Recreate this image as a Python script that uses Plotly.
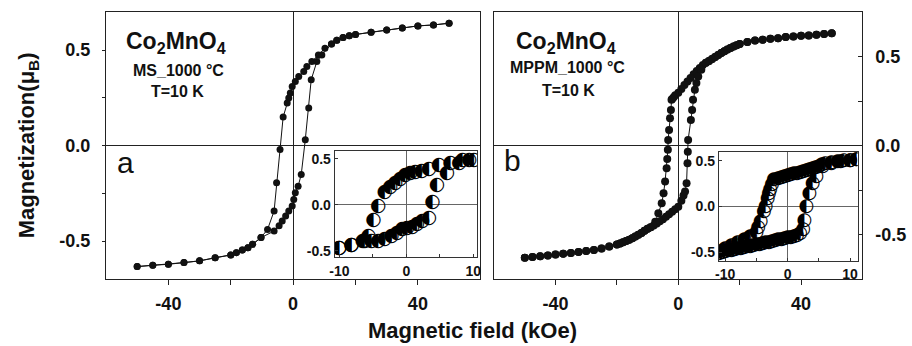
import plotly.graph_objects as go

# ---------------- data: panel a (MS_1000 °C) ----------------
H_a_dn = [50, 45, 40, 35, 30, 25, 20, 18, 16, 14, 12.3, 10.2, 8.1, 6.0, 4.4, 3.4, 1.8, 0.7, -0.3,
          -0.9, -1.4, -1.9, -3.2, -4.2, -5.3, -6.1, -8.2, -10.3, -13, -14.5, -16.3, -18.2, -20,
          -25, -30, -35, -40, -45, -50]
M_a_dn = [0.641, 0.632, 0.627, 0.616, 0.606, 0.594, 0.582, 0.575, 0.566, 0.552, 0.532, 0.51, 0.475,
          0.44, 0.414, 0.388, 0.362, 0.336, 0.31, 0.275, 0.249, 0.223, 0.15, -0.021, -0.195, -0.343,
          -0.439, -0.482, -0.517, -0.535, -0.547, -0.561, -0.573, -0.587, -0.604, -0.613, -0.622,
          -0.627, -0.634]
H_a_up = [-50, -45, -40, -35, -30, -25, -20, -18.2, -16.3, -14.5, -13, -10.3, -6.1, -4.5, -3.5,
          -2.4, -1.4, -0.3, 0.2, 0.7, 1.6, 2.6, 3.9, 5.0, 5.8, 7.6, 9.2, 12.3, 14, 16, 18, 20, 25,
          30, 35, 40, 45, 50]
M_a_up = [-0.634, -0.627, -0.622, -0.613, -0.604, -0.587, -0.573, -0.561, -0.547, -0.535, -0.517,
          -0.482, -0.448, -0.42, -0.395, -0.369, -0.343, -0.317, -0.282, -0.247, -0.213, -0.152,
          0.031, 0.197, 0.345, 0.44, 0.475, 0.532, 0.552, 0.566, 0.575, 0.582, 0.594, 0.606,
          0.616, 0.627, 0.632, 0.641]

# inset a (low-field loop)
Hi_a_dn = [10.1, 8.4, 6.6, 4.9, 3.4, 2.3, 1.35, 0.6, -0.15, -0.9, -1.65, -2.4, -3.2, -4.2, -4.9,
           -5.65, -6.5, -8.2, -10]
Mi_a_dn = [0.49, 0.48, 0.447, 0.43, 0.39, 0.37, 0.356, 0.34, 0.32, 0.28, 0.23, 0.19, 0.14, -0.02,
           -0.165, -0.345, -0.40, -0.435, -0.47]
Hi_a_up = [-10, -8.2, -6.2, -5.2, -4.2, -3.2, -2.2, -1.4, -0.6, 0.1, 0.9, 1.6, 2.4, 3.4, 3.9, 4.6,
           6.1, 7.9, 9.4]
Mi_a_up = [-0.47, -0.44, -0.40, -0.40, -0.40, -0.37, -0.345, -0.31, -0.27, -0.255, -0.24, -0.21,
           -0.18, -0.147, 0.03, 0.21, 0.34, 0.447, 0.48]

# ---------------- data: panel b (MPPM_1000 °C) ----------------
H_b_dn = [50, 47.5, 45, 42.5, 40, 37.5, 35, 32.5, 30, 27.5, 25, 22.5, 20, 19, 18, 17, 16, 15, 14,
          13, 12, 11, 10, 9, 8, 7, 6, 5, 4, 3, 2, 1, 0, -1, -1.5, -2, -2.2, -2.4, -2.7, -3.0, -3.3,
          -3.4, -3.6, -3.8, -4.3, -4.8, -5.4, -6.5, -7.5, -9, -10, -11, -12, -13, -14, -15, -16,
          -17, -18, -19, -20, -22.5, -25, -27.5, -30, -32.5, -35, -37.5, -40, -42.5, -45, -47.5, -50]
M_b_dn = [0.631, 0.626, 0.622, 0.618, 0.616, 0.612, 0.609, 0.603, 0.599, 0.594, 0.59, 0.581, 0.57,
          0.563, 0.556, 0.548, 0.54, 0.53, 0.519, 0.508, 0.497, 0.486, 0.475, 0.465, 0.452, 0.435,
          0.418, 0.40, 0.38, 0.36, 0.34, 0.318, 0.296, 0.282, 0.272, 0.262, 0.257, 0.2, 0.154,
          0.088, 0.032, -0.024, -0.075, -0.127, -0.202, -0.267, -0.324, -0.38, -0.427, -0.458,
          -0.467, -0.478, -0.49, -0.50, -0.51, -0.52, -0.528, -0.536, -0.543, -0.55, -0.555,
          -0.567, -0.578, -0.586, -0.592, -0.597, -0.603, -0.607, -0.612, -0.617, -0.621, -0.625,
          -0.629]
H_b_up = [-50, -47.5, -45, -42.5, -40, -37.5, -35, -32.5, -30, -27.5, -25, -22.5, -20, -19, -18,
          -17, -16, -15, -14, -13, -12, -11, -10, -9, -8, -7, -6, -5, -4, -3, -2, -1, 0, 1, 1.7,
          2.2, 2.7, 3.0, 3.1, 3.2, 4.1, 4.5, 4.8, 5.4, 5.9, 6.5, 7.5, 9, 10, 11, 12, 13, 14, 15, 16,
          17, 18, 19, 20, 22.5, 25, 27.5, 30, 32.5, 35, 37.5, 40, 42.5, 45, 47.5, 50]
M_b_up = [-0.629, -0.625, -0.621, -0.617, -0.612, -0.607, -0.603, -0.597, -0.592, -0.586, -0.578,
          -0.567, -0.555, -0.55, -0.543, -0.536, -0.528, -0.52, -0.51, -0.50, -0.49, -0.478,
          -0.467, -0.458, -0.448, -0.437, -0.425, -0.413, -0.40, -0.386, -0.372, -0.358, -0.343,
          -0.31, -0.28, -0.258, -0.211, -0.099, -0.034, 0.032, 0.144, 0.2, 0.257, 0.313, 0.351,
          0.388, 0.425, 0.465, 0.475, 0.486, 0.497, 0.508, 0.519, 0.53, 0.54, 0.548, 0.556, 0.563,
          0.57, 0.581, 0.59, 0.594, 0.599, 0.603, 0.609, 0.612, 0.616, 0.618, 0.622, 0.626, 0.631]

# inset b (low-field loop)
Hi_b_dn = [11, 10, 9, 8, 7, 6, 5.5, 5, 4.5, 4, 3.5, 3, 2.5, 2, 1.5, 1, 0.5, 0, -0.5, -1, -1.5,
           -2.2, -2.5, -2.8, -3.0, -3.2, -3.5, -3.8, -4.3, -4.7, -5.0, -6, -6.9, -8, -9, -10, -11]
Mi_b_dn = [0.51, 0.505, 0.50, 0.49, 0.48, 0.47, 0.455, 0.44, 0.43, 0.42, 0.40, 0.39, 0.38, 0.37,
           0.36, 0.355, 0.35, 0.34, 0.33, 0.32, 0.31, 0.29, 0.24, 0.18, 0.146, 0.09, 0.0, -0.06,
           -0.16, -0.23, -0.29, -0.33, -0.36, -0.40, -0.43, -0.46, -0.49]
Hi_b_up = [-11, -10.5, -10, -9.5, -9, -8.5, -8, -7.5, -7, -6.5, -6, -5.5, -5, -4.5, -4, -3.5, -3,
           -2.5, -2, -1.5, -1, -0.5, 0, 0.5, 1, 1.5, 2, 2.5, 2.7, 3.0, 3.5, 4.0, 4.6, 5.6, 7, 8.5,
           10, 11]
Mi_b_up = [-0.51, -0.502, -0.495, -0.487, -0.48, -0.472, -0.465, -0.457, -0.45, -0.442, -0.435,
           -0.427, -0.42, -0.412, -0.405, -0.397, -0.39, -0.382, -0.375, -0.367, -0.36, -0.352,
           -0.345, -0.337, -0.33, -0.315, -0.295, -0.25, -0.15, 0.0, 0.146, 0.25, 0.33, 0.44,
           0.47, 0.49, 0.50, 0.51]

# ---------------- tick labels / texts ----------------
main_xticks = [-40, -20, 0, 20, 40]
main_xlabels = ["-40", "", "0", "", "40"]
main_yticks = [-0.5, -0.25, 0, 0.25, 0.5]
main_ylabels = ["-0.5", "", "0.0", "", "0.5"]
inset_xticks = [-10, -5, 0, 5, 10]
inset_xlabels = ["-10", "", "0", "", "10"]
inset_yticks = [-0.5, 0, 0.5]
inset_ylabels = ["-0.5", "0.0", "0.5"]
compound = "Co<sub>2</sub>MnO<sub>4</sub>"
sample_a = "MS_1000 °C"
sample_b = "MPPM_1000 °C"
temperature = "T=10 K"
half_circle = "\u25D0"

W, H = 912, 346
def px(x):
    return x / W
def py(y):
    return 1 - y / H

BOLD = "Liberation Sans"
fig = go.Figure()

def main_trace(xs, ys, xa, ya, size):
    fig.add_trace(go.Scatter(x=xs, y=ys, xaxis=xa, yaxis=ya, mode="lines+markers",
                             line=dict(color="#111", width=1),
                             marker=dict(color="#111", size=size), showlegend=False,
                             hoverinfo="skip"))

def inset_trace(xs, ys, xa, ya, size):
    fig.add_trace(go.Scatter(x=xs, y=ys, xaxis=xa, yaxis=ya, mode="text",
                             text=[half_circle] * len(xs), textposition="middle center",
                             textfont=dict(family="DejaVu Sans", size=size, color="#000"),
                             showlegend=False, hoverinfo="skip"))

main_trace(H_a_dn, M_a_dn, "x", "y", 7)
main_trace(H_a_up, M_a_up, "x", "y", 7)
main_trace(H_b_dn, M_b_dn, "x2", "y2", 8)
main_trace(H_b_up, M_b_up, "x2", "y2", 8)
inset_trace(Hi_a_dn, Mi_a_dn, "x3", "y3", 19)
inset_trace(Hi_a_up, Mi_a_up, "x3", "y3", 19)
inset_trace(Hi_b_dn, Mi_b_dn, "x4", "y4", 18)
inset_trace(Hi_b_up, Mi_b_up, "x4", "y4", 18)

tf_main = dict(family=BOLD, size=18, color="#111", weight="bold")
tf_inset = dict(family=BOLD, size=14, color="#111", weight="bold")
common_main = dict(showline=True, mirror=True, linecolor="#222", linewidth=1.2, showgrid=False,
                   zeroline=True, zerolinecolor="#222", zerolinewidth=1.2, tickcolor="#222")
common_inset = dict(showline=True, mirror=True, linecolor="#333", linewidth=1, showgrid=False,
                    zeroline=True, zerolinecolor="#666", zerolinewidth=1, tickcolor="#333")

fig.update_layout(
    width=W, height=H, margin=dict(l=0, r=0, t=0, b=0),
    paper_bgcolor="white", plot_bgcolor="white",
    xaxis=dict(domain=[px(102), px(480)], range=[-60, 60], anchor="y",
               tickmode="array", tickvals=main_xticks, ticktext=main_xlabels,
               ticks="outside", ticklen=5, tickfont=tf_main, ticklabelstandoff=3, **common_main),
    yaxis=dict(domain=[py(280), py(12)], range=[-0.7, 0.7], anchor="x",
               tickmode="array", tickvals=main_yticks, ticktext=main_ylabels,
               ticks="outside", ticklen=3, tickfont=tf_main, ticklabelstandoff=8, **common_main),
    xaxis2=dict(domain=[px(494), px(866)], range=[-60, 60], anchor="y2",
                tickmode="array", tickvals=main_xticks, ticktext=main_xlabels,
                ticks="outside", ticklen=5, tickfont=tf_main, ticklabelstandoff=3, **common_main),
    yaxis2=dict(domain=[py(280), py(12)], range=[-0.75, 0.75], anchor="x2", side="right",
                tickmode="array", tickvals=main_yticks, ticktext=main_ylabels,
                ticks="inside", ticklen=4, tickfont=tf_main, ticklabelstandoff=8, **common_main),
    xaxis3=dict(domain=[px(333), px(477)], range=[-10.7, 10.6], anchor="y3",
                tickmode="array", tickvals=inset_xticks, ticktext=inset_xlabels,
                ticks="inside", ticklen=3, tickfont=tf_inset, ticklabelstandoff=1, **common_inset),
    yaxis3=dict(domain=[py(258), py(151)], range=[-0.57, 0.59], anchor="x3",
                tickmode="array", tickvals=inset_yticks, ticktext=inset_ylabels,
                ticks="inside", ticklen=3, tickfont=tf_inset, ticklabelstandoff=0, **common_inset),
    xaxis4=dict(domain=[px(721), px(861)], range=[-11, 11.2], anchor="y4",
                tickmode="array", tickvals=inset_xticks, ticktext=inset_xlabels,
                ticks="inside", ticklen=3, tickfont=tf_inset, ticklabelstandoff=0, **common_inset),
    yaxis4=dict(domain=[py(262), py(152)], range=[-0.6, 0.6], anchor="x4",
                tickmode="array", tickvals=inset_yticks, ticktext=inset_ylabels,
                ticks="inside", ticklen=3, tickfont=tf_inset, ticklabelstandoff=0, **common_inset),
)

def ann(text, x, y, size, bold=True, angle=0):
    fig.add_annotation(text=text, x=px(x), y=py(y), xref="paper", yref="paper",
                       showarrow=False, xanchor="center", yanchor="middle", textangle=angle,
                       font=dict(family=BOLD, size=size, color="#111",
                                 weight="bold" if bold else "normal"))

ann(compound, 173, 43, 23)
ann(sample_a, 175, 71, 16)
ann(temperature, 174, 92, 16)
ann(compound, 567, 43, 23)
ann(sample_b, 568, 68, 16)
ann(temperature, 569, 91, 16)
ann("a", 122, 163, 30, bold=False)
ann("b", 513, 161, 30, bold=False)
ann("Magnetic field (kOe)", 472, 331, 22)
ann("Magnetization(\u03bc<sub>B</sub>)", 23, 146, 22, angle=-90)

fig.write_html("out.html")
